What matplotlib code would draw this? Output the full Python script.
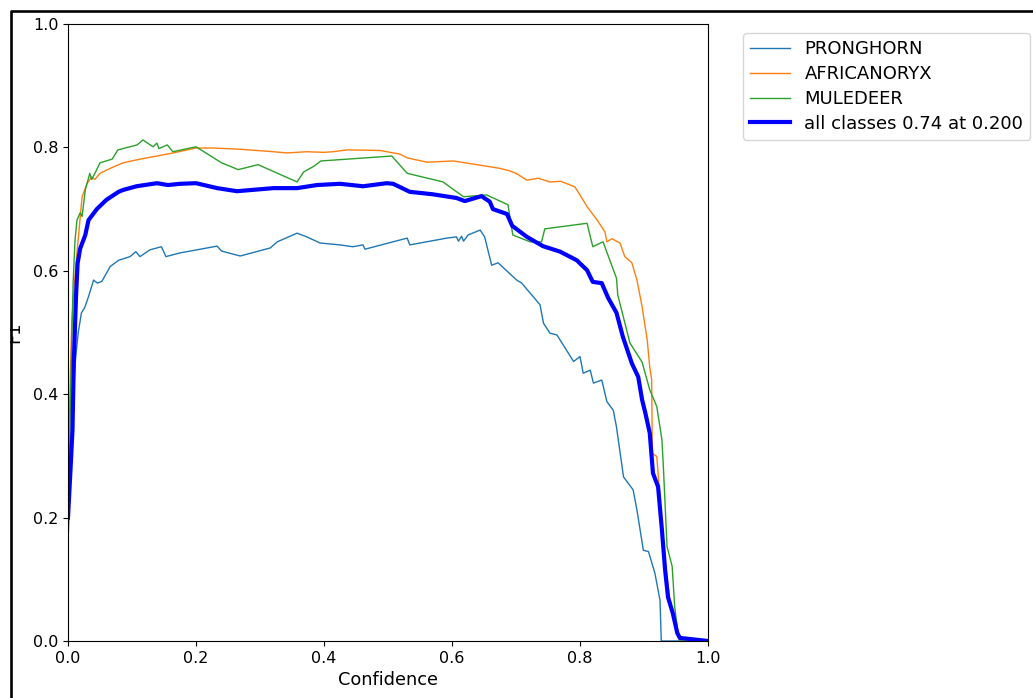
import matplotlib
matplotlib.use("Agg")
import matplotlib.pyplot as plt
from matplotlib.lines import Line2D
from matplotlib.patches import Rectangle

# F1 vs confidence
pron_x = [0, 0.004, 0.008, 0.012, 0.016, 0.021, 0.026, 0.032, 0.040, 0.046, 0.053, 0.066,
          0.079, 0.097, 0.106, 0.1125, 0.128, 0.146, 0.153, 0.175, 0.233, 0.24, 0.269, 0.316,
          0.327, 0.358, 0.373, 0.394, 0.425, 0.445, 0.461, 0.464, 0.53, 0.534, 0.592, 0.607,
          0.610, 0.615, 0.618, 0.625, 0.644, 0.651, 0.662, 0.672, 0.701, 0.709, 0.7375, 0.743,
          0.753, 0.764, 0.790, 0.80, 0.805, 0.816, 0.821, 0.834, 0.842, 0.852, 0.857, 0.868,
          0.883, 0.889, 0.899, 0.907, 0.917, 0.925, 0.927, 1.0]
pron_y = [0.155, 0.30, 0.40, 0.46, 0.50, 0.532, 0.54, 0.558, 0.585, 0.58, 0.583, 0.607,
          0.617, 0.623, 0.631, 0.623, 0.634, 0.639, 0.623, 0.629, 0.640, 0.632, 0.624, 0.637,
          0.647, 0.661, 0.655, 0.645, 0.642, 0.639, 0.642, 0.635, 0.653, 0.642, 0.653, 0.655,
          0.648, 0.656, 0.648, 0.658, 0.666, 0.655, 0.609, 0.613, 0.585, 0.580, 0.545, 0.515,
          0.499, 0.496, 0.453, 0.461, 0.434, 0.439, 0.418, 0.423, 0.388, 0.374, 0.347, 0.266,
          0.245, 0.212, 0.147, 0.145, 0.110, 0.066, 0.0, 0.0]

oryx_x = [0, 0.003, 0.006, 0.010, 0.014, 0.022, 0.030, 0.037, 0.042, 0.05, 0.066, 0.086,
          0.1125, 0.139, 0.164, 0.20, 0.227, 0.269, 0.321, 0.342, 0.373, 0.40, 0.414, 0.436,
          0.4875, 0.519, 0.53, 0.561, 0.602, 0.633, 0.675, 0.69, 0.70, 0.717, 0.735, 0.753,
          0.77, 0.792, 0.80, 0.811, 0.827, 0.839, 0.842, 0.85, 0.8625, 0.870, 0.881, 0.889,
          0.897, 0.905, 0.909, 0.912, 0.913, 0.920, 0.922, 0.928, 0.934, 0.94, 0.947, 0.953,
          0.956, 1.0]
oryx_y = [0.30, 0.40, 0.52, 0.58, 0.629, 0.72, 0.742, 0.752, 0.748, 0.758, 0.766, 0.775,
          0.781, 0.786, 0.791, 0.799, 0.799, 0.797, 0.793, 0.791, 0.793, 0.792, 0.793, 0.796,
          0.795, 0.789, 0.783, 0.776, 0.778, 0.773, 0.766, 0.762, 0.758, 0.747, 0.75, 0.744,
          0.745, 0.736, 0.723, 0.704, 0.682, 0.663, 0.647, 0.652, 0.645, 0.623, 0.613, 0.585,
          0.542, 0.488, 0.444, 0.423, 0.304, 0.299, 0.272, 0.19, 0.12, 0.07, 0.04, 0.013,
          0.0, 0.0]

mule_x = [0, 0.004, 0.008, 0.011, 0.014, 0.019, 0.022, 0.027, 0.032, 0.034, 0.037, 0.042,
          0.05, 0.069, 0.078, 0.108, 0.117, 0.133, 0.139, 0.142, 0.155, 0.164, 0.20, 0.24,
          0.266, 0.297, 0.358, 0.368, 0.385, 0.395, 0.506, 0.53, 0.586, 0.618, 0.654, 0.6875,
          0.695, 0.722, 0.740, 0.745, 0.811, 0.820, 0.836, 0.857, 0.859, 0.878, 0.897, 0.909,
          0.920, 0.928, 0.930, 0.936, 0.944, 0.948, 0.953, 0.956, 1.0]
mule_y = [0.145, 0.40, 0.58, 0.65, 0.682, 0.694, 0.688, 0.731, 0.750, 0.758, 0.748, 0.758,
          0.775, 0.781, 0.796, 0.804, 0.812, 0.801, 0.807, 0.798, 0.804, 0.793, 0.801, 0.775,
          0.764, 0.772, 0.744, 0.760, 0.770, 0.778, 0.786, 0.758, 0.744, 0.720, 0.723, 0.707,
          0.658, 0.647, 0.647, 0.668, 0.677, 0.639, 0.647, 0.588, 0.561, 0.483, 0.452, 0.407,
          0.38, 0.326, 0.288, 0.153, 0.121, 0.055, 0.013, 0.0, 0.0]

all_x = [0, 0.004, 0.007, 0.009, 0.0125, 0.015, 0.019, 0.027, 0.032, 0.045, 0.060, 0.079,
         0.086, 0.107, 0.139, 0.156, 0.175, 0.20, 0.233, 0.264, 0.321, 0.358, 0.389, 0.425,
         0.461, 0.498, 0.508, 0.534, 0.570, 0.607, 0.620, 0.646, 0.659, 0.664, 0.686, 0.694,
         0.717, 0.742, 0.769, 0.795, 0.811, 0.820, 0.834, 0.844, 0.857, 0.867, 0.881, 0.891,
         0.897, 0.902, 0.909, 0.914, 0.922, 0.928, 0.933, 0.9375, 0.945, 0.952, 0.956, 1.0]
all_y = [0.20, 0.28, 0.342, 0.45, 0.558, 0.612, 0.636, 0.658, 0.682, 0.700, 0.715, 0.728,
         0.731, 0.737, 0.742, 0.739, 0.741, 0.742, 0.734, 0.729, 0.734, 0.734, 0.739, 0.741,
         0.737, 0.742, 0.741, 0.728, 0.724, 0.718, 0.713, 0.721, 0.712, 0.700, 0.692, 0.673,
         0.655, 0.640, 0.631, 0.617, 0.601, 0.582, 0.580, 0.556, 0.532, 0.493, 0.450, 0.428,
         0.391, 0.370, 0.337, 0.272, 0.250, 0.180, 0.115, 0.071, 0.045, 0.013, 0.005, 0.0]

names = ["PRONGHORN", "AFRICANORYX", "MULEDEER"]
best_f1, best_conf = 0.74, 0.200

W, H = 1033, 698
fig = plt.figure(figsize=(W / 100, H / 100), dpi=100)
ax = fig.add_axes([68 / W, 1 - 641 / H, 640 / W, 617 / H])

ax.plot(pron_x, pron_y, linewidth=1, label=names[0])
ax.plot(oryx_x, oryx_y, linewidth=1, label=names[1])
ax.plot(mule_x, mule_y, linewidth=1, label=names[2])
ax.plot(all_x, all_y, linewidth=3, color="blue",
        label=f"all classes {best_f1:.2f} at {best_conf:.3f}")

ax.set_xlim(0, 1)
ax.set_ylim(0, 1)
ax.tick_params(labelsize=11.5)
ax.set_xlabel("Confidence", fontsize=12.8)
ax.set_ylabel("F1", fontsize=12.8)
ax.yaxis.set_label_coords(-0.07, 0.5)

fig.legend(*ax.get_legend_handles_labels(), loc="upper left",
           bbox_to_anchor=(743 / W, 1 - 33 / H), borderaxespad=0, fontsize=13,
           handlelength=2.2, labelspacing=0.38)

# frame of the screenshot: white margin + black edge on top and left
fig.add_artist(Rectangle((0, 0), 10 / W, 1, transform=fig.transFigure,
                         facecolor="white", edgecolor="none", zorder=9))
fig.add_artist(Line2D([11 / W, 11 / W, 1], [0, 1 - 10.5 / H, 1 - 10.5 / H],
                      transform=fig.transFigure, color="black", linewidth=1.9, zorder=10))

fig.savefig("out.png", dpi=100)
